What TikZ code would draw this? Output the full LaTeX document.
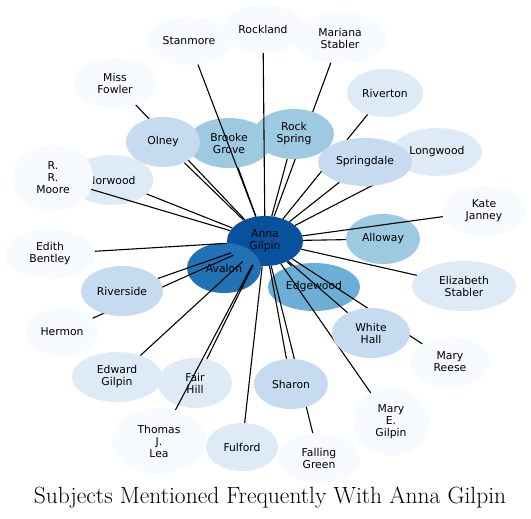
\documentclass[tikz,border=0pt]{standalone}
\usepackage{fontspec}
\newfontfamily\dejavu{DejaVu Sans}
\usetikzlibrary{shapes.geometric}
\pgfdeclarelayer{back}
\pgfdeclarelayer{mid}
\pgfdeclarelayer{top}
\pgfsetlayers{back,mid,main,top}
\definecolor{bA}{HTML}{F7FBFF}
\definecolor{bB}{HTML}{DEEBF7}
\definecolor{bC}{HTML}{C6DBEF}
\definecolor{bD}{HTML}{9ECAE1}
\definecolor{bE}{HTML}{6BAED6}
\definecolor{bF}{HTML}{2171B5}
\definecolor{bG}{HTML}{08519C}
\tikzset{
  ent/.style={ellipse, inner sep=0pt, align=center, text=black,
    font=\dejavu\fontsize{10.8}{12}\selectfont},
  sz/.style n args={2}{minimum width=#1pt, minimum height=#2pt},
  link/.style={draw=black, line width=1.1pt},
}
\begin{document}
\begin{tikzpicture}[x=1pt,y=-1pt]
\useasboundingbox (0,0) rectangle (531,519);
\begin{pgfonlayer}{back}
\fill[white] (0,0) rectangle (531,519);
\node[ent, fill=bG, sz={76}{50}] (anna) at (265,241) {Anna\\Gilpin};
\node[ent, fill=bF, sz={74}{50}] (avalon) at (224,268) {Avalon};
\node[ent, fill=bE, sz={92}{48}] (edgewood) at (314,287) {Edgewood};
\node[ent, fill=bA, sz={84}{48}] (stanmore) at (189,41) {Stanmore};
\node[ent, fill=bA, sz={82}{48}] (rockland) at (263,29) {Rockland};
\node[ent, fill=bA, sz={94}{50}] (mariana) at (340,38) {Mariana\\Stabler};
\node[ent, fill=bA, sz={84}{50}] (missfowler) at (115,83) {Miss\\Fowler};
\node[ent, fill=bD, sz={84}{50}] (brooke) at (229,143) {Brooke\\Grove};
\node[ent, fill=bB, sz={76}{48}] (riverton) at (385,93) {Riverton};
\node[ent, fill=bB, sz={90}{48}] (longwood) at (437,152) {Longwood};
\node[ent, fill=bA, sz={84}{50}] (kate) at (484,211) {Kate\\Janney};
\node[ent, fill=bD, sz={74}{50}] (alloway) at (383,239) {Alloway};
\node[ent, fill=bB, sz={84}{50}] (norwood) at (111.5,180) {Norwood};
\node[ent, fill=bA, sz={81}{66}] (rrmoore) at (53,178) {R.\\R.\\Moore};
\node[ent, fill=bA, sz={90}{50}] (edith) at (50,254) {Edith\\Bentley};
\node[ent, fill=bB, sz={104}{50}] (elizabeth) at (464,286) {Elizabeth\\Stabler};
\node[ent, fill=bA, sz={74}{48}] (hermon) at (62,332) {Hermon};
\node[ent, fill=bA, sz={80}{50}] (maryreese) at (450,362) {Mary\\Reese};
\node[ent, fill=bB, sz={90}{50}] (edward) at (117,377) {Edward\\Gilpin};
\node[ent, fill=bB, sz={74}{50}] (fairhill) at (195,383) {Fair\\Hill};
\node[ent, fill=bA, sz={94}{66}] (thomas) at (159,441) {Thomas\\J.\\Lea};
\node[ent, fill=bB, sz={72}{48}] (fulford) at (242,447) {Fulford};
\node[ent, fill=bA, sz={82}{50}] (falling) at (319,458) {Falling\\Green};
\node[ent, fill=bA, sz={76}{68}] (marye) at (391,422) {Mary\\E.\\Gilpin};
\end{pgfonlayer}
% upper nodes
\node[ent, fill=bC, sz={74}{50}] (olney) at (163,142) {Olney};
\node[ent, fill=bD, sz={80}{50}] (rockspring) at (294,134) {Rock\\Spring};
\node[ent, fill=bC, sz={94}{48}] (springdale) at (365,162) {Springdale};
\node[ent, fill=bC, sz={82}{50}] (riverside) at (122,291) {Riverside};
\node[ent, fill=bC, sz={78}{50}] (whitehall) at (371,333) {White\\Hall};
\node[ent, fill=bC, sz={74}{50}] (sharon) at (291,384) {Sharon};
\begin{pgfonlayer}{mid}
\foreach \t in {stanmore,mariana,missfowler,olney,brooke,rockspring,riverton,
  springdale,longwood,kate,alloway,norwood,rrmoore,edith,edgewood,elizabeth,
  riverside,hermon,whitehall,maryreese,edward,fairhill,sharon,thomas,fulford,
  falling,marye}
  \draw[link] (anna) -- (\t);
\end{pgfonlayer}
\begin{pgfonlayer}{top}
\draw[link] (anna) -- (rockland);
\end{pgfonlayer}
\node[anchor=base, font=\fontsize{23.5}{28}\selectfont] (title) at (270,503)
  {Subjects Mentioned Frequently With Anna Gilpin};
\end{tikzpicture}
\end{document}
